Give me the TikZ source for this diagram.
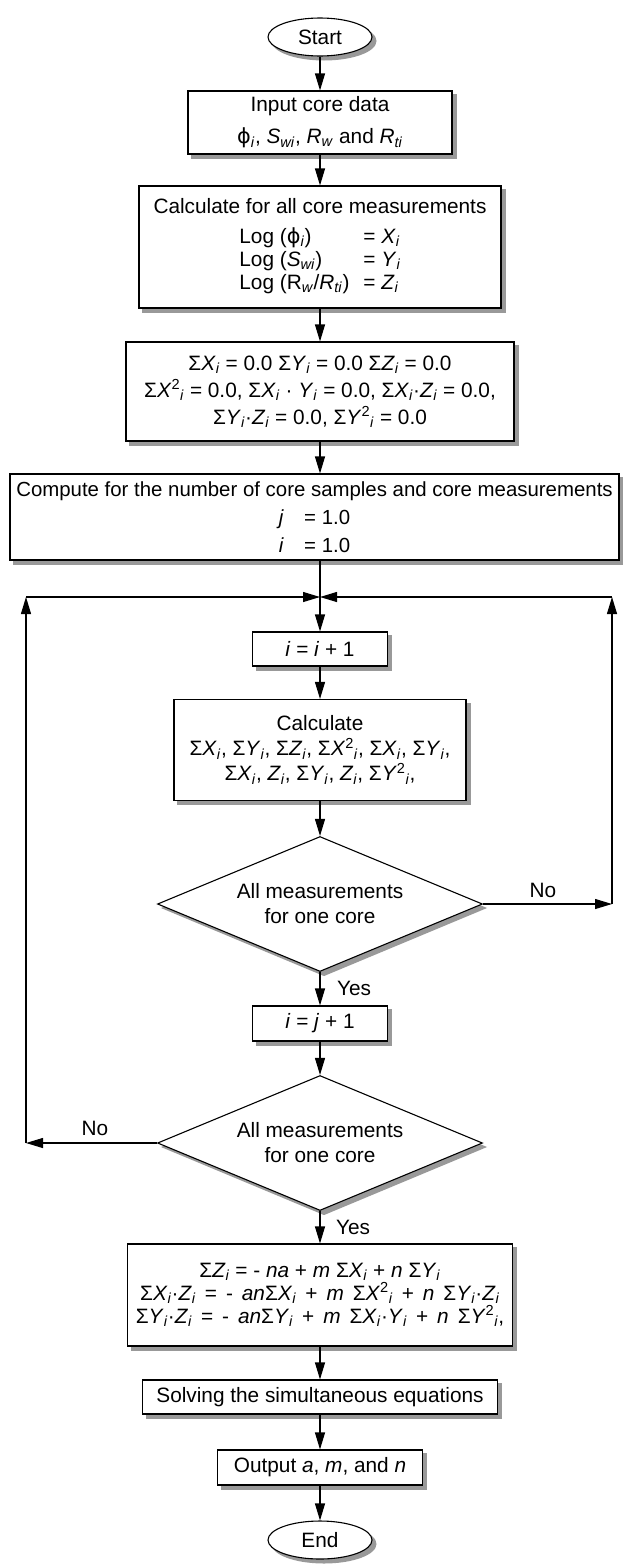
\documentclass[tikz,border=0pt]{standalone}
\usepackage{fontspec}
\setmainfont{Liberation Sans}
\newfontfamily\dejavu{DejaVu Sans}
\usetikzlibrary{shapes.geometric,arrows.meta}
\pgfdeclarelayer{background}
\pgfsetlayers{background,main}
\newcommand{\vs}[2]{\textit{#1}\textsubscript{\textit{#2}}}
\newcommand{\vsq}[2]{\textit{#1}\textsuperscript{2}\textsubscript{\textit{#2}}}
\newcommand{\phis}{{\dejavu ϕ}}
\newcommand{\wide}[1]{{\spaceskip=1.55\fontdimen2\font\relax #1}}
\begin{document}
\begin{tikzpicture}[x=1pt,y=-1pt,
  every node/.style={font=\fontsize{20.8}{25}\selectfont},
  shadowc/.style={fill=black!40,draw=none},
  box/.style={draw,line width=1.1pt,fill=white,rectangle,inner sep=0pt,align=center},
  term/.style={draw,line width=1.1pt,fill=white,ellipse,inner sep=0pt,minimum width=104pt,minimum height=38pt},
  dec/.style={draw,line width=1.1pt,fill=white,diamond,aspect=2.4,inner sep=0pt,minimum width=325pt,minimum height=135pt,align=center},
  arr/.style={-{Triangle[length=17pt,width=10pt]},line width=1.1pt},
  lab/.style={inner sep=0pt}
]
\useasboundingbox (0,0) rectangle (623,1566);

\node[term] (start) at (320,37) {Start};
\node[box,minimum width=264pt,minimum height=63pt] (input) at (320,122.5)
  {Input core data\\[7pt]\phis\textsubscript{\textit{i}}, \vs{S}{wi}, \vs{R}{w} and \vs{R}{ti}};
\node[box,minimum width=362pt,minimum height=122pt] (calc) at (320,247)
  {Calculate for all core measurements\\[5pt]
   \renewcommand{\arraystretch}{0.92}%
   \begin{tabular}[t]{@{}l@{\hspace{14pt}}l@{}}
   Log (\phis\textsubscript{\textit{i}}) & = \vs{X}{i}\\
   Log (\vs{S}{wi}) & = \vs{Y}{i}\\
   Log (R\textsubscript{\textit{w}}/\vs{R}{ti}) & = \vs{Z}{i}
   \end{tabular}};
\node[box,minimum width=388pt,minimum height=99pt,font=\fontsize{20.8}{27}\selectfont] (sum) at (320,391.5)
  {Σ\vs{X}{i} = 0.0 Σ\vs{Y}{i} = 0.0 Σ\vs{Z}{i} = 0.0\\
   Σ\vsq{X}{i} = 0.0, Σ\vs{X}{i} · \vs{Y}{i} = 0.0, Σ\vs{X}{i}·\vs{Z}{i} = 0.0,\\
   Σ\vs{Y}{i}·\vs{Z}{i} = 0.0, Σ\vsq{Y}{i} = 0.0};
\node[box,minimum width=609pt,minimum height=86pt,font=\fontsize{20.4}{28}\selectfont] (compute) at (314.5,517)
  {Compute for the number of core samples and core measurements\\
   \textit{j}\quad= 1.0\\
   \textit{i}\quad= 1.0};
\coordinate (merge) at (320,597);
\coordinate (cL) at (26,597);
\coordinate (cR) at (612,597);
\node[box,minimum width=135pt,minimum height=34pt] (ibox1) at (320,649)
  {\textit{i} = \textit{i} + 1};
\node[box,minimum width=292pt,minimum height=101pt] (calc2) at (320,750)
  {Calculate\\
   Σ\vs{X}{i}, Σ\vs{Y}{i}, Σ\vs{Z}{i}, Σ\vsq{X}{i}, Σ\vs{X}{i}, Σ\vs{Y}{i},\\
   Σ\vs{X}{i}, \vs{Z}{i}, Σ\vs{Y}{i}, \vs{Z}{i}, Σ\vsq{Y}{i},};
\node[dec] (d1) at (320,904) {All measurements\\for one core};
\coordinate (cRb) at (612,904);
\node[box,minimum width=135pt,minimum height=35pt] (ibox2) at (320,1023.5)
  {\textit{i} = \textit{j} + 1};
\node[dec] (d2) at (320,1143) {All measurements\\for one core};
\coordinate (cLb) at (26,1143);
\node[box,minimum width=385pt,minimum height=102pt,font=\fontsize{20.8}{23}\selectfont] (eq) at (320,1295)
  {Σ\vs{Z}{i} = - \textit{na} + \textit{m} Σ\vs{X}{i} + \textit{n} Σ\vs{Y}{i}\\
   \wide{Σ\vs{X}{i}·\vs{Z}{i} = - \textit{an}Σ\vs{X}{i} +  \textit{m} Σ\vsq{X}{i} + \textit{n} Σ\vs{Y}{i}·\vs{Z}{i}}\\
   \wide{Σ\vs{Y}{i}·\vs{Z}{i} = - \textit{an}Σ\vs{Y}{i} +  \textit{m} Σ\vs{X}{i}·\vs{Y}{i} + \textit{n} Σ\vsq{Y}{i},}};
\node[box,minimum width=355pt,minimum height=34pt] (solve) at (320,1397)
  {Solving the simultaneous equations};
\node[box,minimum width=205pt,minimum height=35pt] (out) at (320,1467.5)
  {Output \textit{a}, \textit{m}, and \textit{n}};
\node[term] (end) at (320,1540) {End};

\node[lab] (no1) at (543,890) {No};
\node[lab] (yes1) at (354,988) {Yes};
\node[lab] (no2) at (95,1128) {No};
\node[lab] (yes2) at (353,1227) {Yes};

\begin{pgfonlayer}{background}
\fill[white] (0,0) rectangle (623,1566);
\foreach \n in {input,calc,sum,compute,ibox1,calc2,ibox2,eq,solve,out}
  \fill[shadowc] ([shift={(4pt,-4pt)}]\n.south west) rectangle ([shift={(4pt,-4pt)}]\n.north east);
\foreach \n in {start,end}
  \fill[shadowc] ([shift={(4pt,-4pt)}]\n.center) ellipse [x radius=52.5pt, y radius=19.5pt];
\foreach \n in {d1,d2}
  \fill[shadowc] ([shift={(4pt,-4pt)}]\n.north) -- ([shift={(4pt,-4pt)}]\n.east)
     -- ([shift={(4pt,-4pt)}]\n.south) -- ([shift={(4pt,-4pt)}]\n.west) -- cycle;
\end{pgfonlayer}

\draw[arr] (start.south) -- (input.north);
\draw[arr] (input.south) -- (calc.north);
\draw[arr] (calc.south) -- (sum.north);
\draw[arr] (sum.south) -- (sum.south |- compute.north);
\draw[arr] (compute.south -| ibox1.north) -- (ibox1.north);
\draw[arr] (ibox1.south) -- (calc2.north);
\draw[arr] (calc2.south) -- (d1.north);
\draw[arr] (d1.south) -- (ibox2.north);
\draw[arr] (ibox2.south) -- (d2.north);
\draw[arr] (d2.south) -- (eq.north);
\draw[arr] (eq.south) -- (solve.north);
\draw[arr] (solve.south) -- (out.north);
\draw[arr] (out.south) -- (end.north);
\draw[arr] (d1.east) -- (cRb);
\draw[arr] (cRb) -- (cR);
\draw[arr] (cR) -- (merge);
\draw[arr] (d2.west) -- (cLb);
\draw[arr] (cLb) -- (cL);
\draw[arr] (cL) -- (merge);
\end{tikzpicture}
\end{document}
